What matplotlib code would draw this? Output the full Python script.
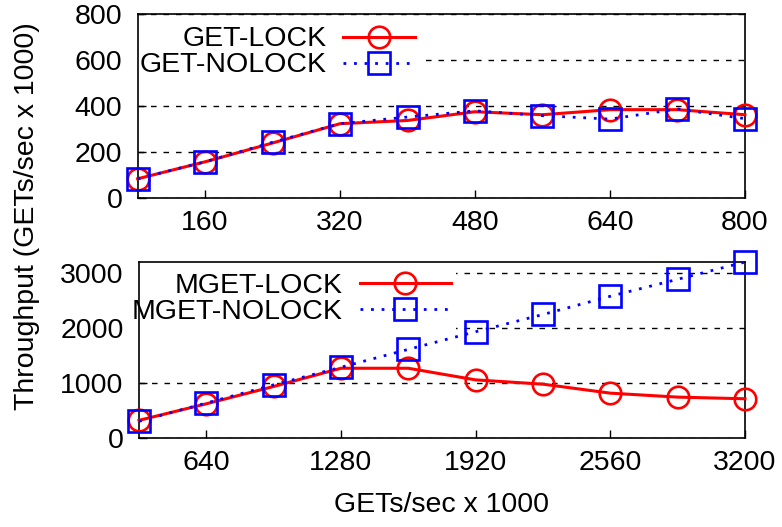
import matplotlib

matplotlib.use('Agg')
import matplotlib.pyplot as plt

# top panel: GET
get_x = [80, 160, 240, 320, 400, 480, 560, 640, 720, 800]
get_lock = [82, 156, 238, 322, 336, 374, 361, 383, 383, 361]
get_nolock = [82, 156, 241, 322, 351, 378, 357, 342, 386, 344]
get_xticks = [160, 320, 480, 640, 800]
get_yticks = [0, 200, 400, 600, 800]

# bottom panel: MGET
mget_x = [320, 640, 960, 1280, 1600, 1920, 2240, 2560, 2880, 3200]
mget_lock = [319, 620, 934, 1265, 1265, 1054, 976, 813, 741, 711]
mget_nolock = [301, 633, 964, 1283, 1608, 1928, 2241, 2572, 2880, 3193]
mget_xticks = [640, 1280, 1920, 2560, 3200]
mget_yticks = [0, 1000, 2000, 3000]

RED = '#ff0000'
BLUE = '#0000ff'
FS = 20.5

plt.rcParams['font.family'] = ['Liberation Sans', 'DejaVu Sans']

fig = plt.figure(figsize=(7.82, 5.27), dpi=100)
ax1 = fig.add_axes([0.176, 0.625, 0.7766, 0.3486])
ax2 = fig.add_axes([0.1777, 0.169, 0.775, 0.3345])


def draw(ax, x, lock, nolock, labels, xticks, yticks, xlim, ylim, hlen, anchor):
    ax.plot(x, lock, color=RED, linewidth=2.2, marker='o', markersize=15.5,
            markerfacecolor='none', markeredgewidth=1.9, label=labels[0],
            clip_on=False, zorder=3)
    ax.plot(x, nolock, color=BLUE, linewidth=2.0, linestyle=(0, (1, 2.8)),
            marker='s', markersize=15.5, markerfacecolor='none',
            markeredgewidth=1.9, label=labels[1], clip_on=False, zorder=4)
    ax.set_xlim(*xlim)
    ax.set_ylim(*ylim)
    ax.set_xticks(xticks)
    ax.set_yticks(yticks)
    ax.tick_params(direction='in', labelsize=FS, length=6, width=1,
                   top=False, right=False)
    ax.tick_params(axis='x', pad=9)
    ax.tick_params(axis='y', pad=11)
    ax.yaxis.grid(True, color='black', linestyle=(0, (4, 5)), linewidth=1)
    ax.set_axisbelow(True)
    for s in ax.spines.values():
        s.set_linewidth(1.2)
        s.set_zorder(2.6)
    leg = ax.legend(loc='upper left', bbox_to_anchor=anchor,
                    markerfirst=False, fontsize=FS, handlelength=hlen,
                    handletextpad=0.6, labelspacing=0.0, borderpad=0.2,
                    frameon=True, framealpha=1, edgecolor='none',
                    fancybox=False, facecolor='white')
    leg.set_zorder(2.2)


draw(ax1, get_x, get_lock, get_nolock, ['GET-LOCK', 'GET-NOLOCK'],
     get_xticks, get_yticks, (80, 800), (0, 800), 2.5, (-0.03, 1.04))
draw(ax2, mget_x, mget_lock, mget_nolock, ['MGET-LOCK', 'MGET-NOLOCK'],
     mget_xticks, mget_yticks, (320, 3200), (0, 3200), 3.2, (-0.045, 1.05))

fig.text(0.035, 0.59, 'Throughput (GETs/sec x 1000)', rotation=90,
         ha='center', va='center', fontsize=FS)
fig.text(0.565, 0.042, 'GETs/sec x 1000', ha='center', va='center',
         fontsize=FS)

fig.savefig('out.png', dpi=100)
